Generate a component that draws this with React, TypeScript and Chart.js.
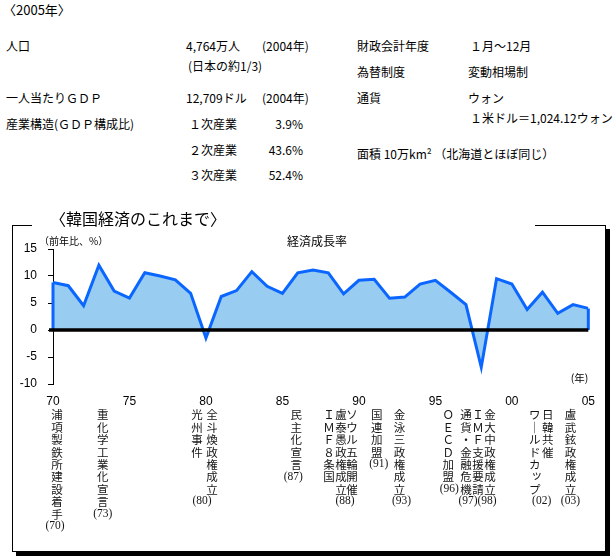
import React, { useEffect, useRef } from "react";
import { Chart, registerables } from "chart.js";

Chart.register(...registerables);

// ---- data ----
const years = [
  1970, 1971, 1972, 1973, 1974, 1975, 1976, 1977, 1978, 1979,
  1980, 1981, 1982, 1983, 1984, 1985, 1986, 1987, 1988, 1989,
  1990, 1991, 1992, 1993, 1994, 1995, 1996, 1997, 1998, 1999,
  2000, 2001, 2002, 2003, 2004, 2005,
];
const growthRates = [
  8.8, 8.2, 4.5, 12.0, 7.2, 5.9, 10.6, 10.0, 9.3, 6.8,
  -1.5, 6.2, 7.3, 10.8, 8.1, 6.8, 10.6, 11.1, 10.6, 6.7,
  9.2, 9.4, 5.9, 6.1, 8.5, 9.2, 7.0, 4.7, -6.9, 9.5,
  8.5, 3.8, 7.0, 3.1, 4.7, 4.0,
];
const yTickValues = [-10, -5, 0, 5, 10, 15];
const xTickYears = [1970, 1975, 1980, 1985, 1990, 1995, 2000, 2005];
const xTickLabels = ["70", "75", "80", "85", "90", "95", "00", "05"];

// event annotations (vertical text columns under the axis)
const eventTexts = [
  "浦項製鉄所建設着手", "重化学工業化宣言", "光州事件", "全斗煥政権成立", "民主化宣言",
  "ＩＭＦ８条国", "盧泰愚政権成立", "ソウル五輪開催", "国連加盟", "金泳三政権成立",
  "ＯＥＣＤ加盟", "通貨・金融危機", "ＩＭＦ支援要請", "金大中政権成立",
  "ワールドカップ", "日韓共催", "盧武鉉政権成立",
];
const eventColumnYear = [
  1970.26, 1973.25, 1979.42, 1980.39, 1985.91,
  1988.05, 1988.83, 1989.55, 1991.17, 1992.66,
  1995.84, 1997.01, 1997.79, 1998.57,
  2001.49, 2002.34, 2003.83,
];
const eventTags = ["(70)", "(73)", "(80)", "(87)", "(88)", "(91)", "(93)", "(96)", "(97)", "(98)", "(02)", "(03)"];
const eventTagYear = [1970.13, 1973.25, 1979.74, 1985.71, 1989.09, 1991.3, 1992.79, 1995.91, 1997.14, 1998.38, 2001.95, 2003.83];
const eventTagBelowColumn = [0, 1, 3, 4, 6, 8, 9, 10, 11, 13, 14, 16];

const LINE_COLOR = "#0a66ff";
const FILL_COLOR = "#98ccf1";
const CJK = '"Noto Sans CJK JP", sans-serif';
const LATIN = '"Liberation Sans", Arial, sans-serif';

const overlayPlugin = {
  id: "overlay",
  afterDatasetsDraw(chart: any) {
    const { ctx, chartArea, scales } = chart;
    const y0 = scales.y.getPixelForValue(0);
    const pts = chart.getDatasetMeta(0).data;
    const first = pts[0];
    const last = pts[pts.length - 1];
    ctx.save();
    ctx.strokeStyle = LINE_COLOR;
    ctx.lineWidth = 3;
    ctx.beginPath();
    ctx.moveTo(first.x, y0);
    ctx.lineTo(first.x, first.y);
    ctx.moveTo(last.x, last.y);
    ctx.lineTo(last.x, y0);
    ctx.stroke();
    ctx.strokeStyle = "#000";
    ctx.lineWidth = 3.5;
    ctx.beginPath();
    ctx.moveTo(chartArea.left - 4, y0);
    ctx.lineTo(chartArea.right, y0);
    ctx.stroke();
    ctx.restore();
  },
  afterDraw(chart: any) {
    const { ctx, chartArea, scales } = chart;
    const xs = scales.x;
    ctx.save();
    ctx.fillStyle = "#000";
    ctx.textBaseline = "middle";

    ctx.font = `10px ${CJK}`;
    ctx.textAlign = "left";
    ctx.fillText("（前年比、%）", 26, 15);

    ctx.font = `12px ${CJK}`;
    ctx.textAlign = "center";
    ctx.fillText("経済成長率", 304, 15);

    ctx.font = `10.5px ${CJK}`;
    ctx.textAlign = "right";
    ctx.fillText("(年)", chartArea.right, chartArea.bottom - 6);

    // vertical annotation columns
    const startY = chartArea.bottom + 31;
    const pitch = 12.4;
    const small = "ッォャュョァィゥェ";
    ctx.fillStyle = "#151515";
    ctx.textAlign = "center";
    ctx.font = `11.5px ${CJK}`;
    eventTexts.forEach((text, i) => {
      const x = xs.getPixelForValue(eventColumnYear[i]);
      Array.from(text).forEach((ch, k) => {
        const g = ch === "ー" ? "｜" : ch;
        const dx = small.includes(ch) ? 2 : 0;
        const dy = small.includes(ch) ? -2 : 0;
        ctx.fillText(g, x + dx, startY + k * pitch + dy);
      });
    });
    ctx.font = `11.5px "Liberation Serif", serif`;
    eventTags.forEach((tag, i) => {
      const col = eventTagBelowColumn[i];
      const n = Array.from(eventTexts[col]).length;
      const y = startY + (n - 1) * pitch + 12;
      ctx.fillText(tag, xs.getPixelForValue(eventTagYear[i]), y);
    });
    ctx.restore();
  },
};

function T(props: { x: number; y: number; text: string; size?: number; right?: boolean }) {
  const { x, y, text, size = 12, right } = props;
  const style: any = {
    position: "absolute",
    top: y - 8,
    height: 16,
    lineHeight: "16px",
    fontSize: size,
    fontFamily: CJK,
    color: "#000",
    whiteSpace: "nowrap",
  };
  if (right) style.right = 616 - x;
  else style.left = x;
  return <div style={style}>{text}</div>;
}

export default function App() {
  const ref = useRef<HTMLCanvasElement>(null);

  useEffect(() => {
    const canvas = ref.current!;
    const chart = new Chart(canvas, {
      type: "line",
      data: {
        datasets: [
          {
            label: "経済成長率",
            data: years.map((yr, i) => ({ x: yr, y: growthRates[i] })),
            borderColor: LINE_COLOR,
            backgroundColor: FILL_COLOR,
            borderWidth: 3,
            fill: "origin",
            pointRadius: 0,
            tension: 0,
          },
        ],
      },
      options: {
        animation: false,
        responsive: false,
        maintainAspectRatio: false,
        layout: { padding: { top: 23, right: 12, bottom: 137, left: 0 } },
        plugins: {
          legend: { display: false },
          tooltip: { enabled: false },
          title: { display: false },
        },
        scales: {
          x: {
            type: "linear",
            min: xTickYears[0],
            max: xTickYears[xTickYears.length - 1],
            afterFit: (s: any) => {
              s.height = 30;
            },
            afterBuildTicks: (s: any) => {
              s.ticks = xTickYears.map((v) => ({ value: v }));
            },
            grid: { display: false, drawTicks: false },
            border: { display: false },
            ticks: {
              padding: 10,
              maxRotation: 0,
              autoSkip: false,
              color: "#000",
              font: { family: LATIN, size: 12 },
              callback: (v: any) => {
                const idx = xTickYears.indexOf(Number(v));
                return idx >= 0 ? xTickLabels[idx] : "";
              },
            },
          },
          y: {
            type: "linear",
            min: yTickValues[0],
            max: yTickValues[yTickValues.length - 1],
            afterFit: (s: any) => {
              s.width = 40;
            },
            afterBuildTicks: (s: any) => {
              s.ticks = yTickValues.map((v) => ({ value: v }));
            },
            grid: {
              drawOnChartArea: false,
              drawTicks: true,
              tickLength: 5,
              color: "#000",
              lineWidth: 1,
            },
            border: { display: true, color: "#000", width: 1 },
            ticks: {
              padding: 11,
              color: "#000",
              font: { family: LATIN, size: 12 },
              callback: (v: any) => String(v),
            },
          },
        },
      },
      plugins: [overlayPlugin],
    } as any);
    return () => chart.destroy();
  }, []);

  return (
    <div
      style={{
        position: "absolute",
        left: 0,
        top: 0,
        width: 616,
        height: 560,
        background: "#fff",
        overflow: "hidden",
        fontFamily: CJK,
      }}
    >
      <T x={3} y={10} text="〈2005年〉" size={13} />

      <T x={6} y={46} text="人口" />
      <T x={186} y={46} text="4,764万人" />
      <T x={262} y={46} text="(2004年)" />
      <T x={188} y={66} text="(日本の約1/3)" />

      <T x={6} y={98} text="一人当たりＧＤＰ" />
      <T x={186} y={98} text="12,709ドル" />
      <T x={262} y={98} text="(2004年)" />

      <T x={6} y={124} text="産業構造(ＧＤＰ構成比)" />
      <T x={189} y={124} text="１次産業" />
      <T x={303} y={124} text="3.9%" right />
      <T x={189} y={150} text="２次産業" />
      <T x={303} y={150} text="43.6%" right />
      <T x={189} y={175} text="３次産業" />
      <T x={303} y={175} text="52.4%" right />

      <T x={357} y={46} text="財政会計年度" />
      <T x={470} y={46} text="１月～12月" />
      <T x={357} y={72} text="為替制度" />
      <T x={468} y={72} text="変動相場制" />
      <T x={357} y={98} text="通貨" />
      <T x={468} y={98} text="ウォン" />
      <T x={470} y={118} text="１米ドル＝1,024.12ウォン" />
      <T x={357} y={154} text="面積 10万km² （北海道とほぼ同じ）" />

      <div
        style={{
          position: "absolute",
          left: 12,
          top: 225,
          width: 594,
          height: 327,
          boxSizing: "border-box",
          border: "1px solid #000",
          boxShadow: "4px 4px 0 #000",
          background: "#fff",
        }}
      />
      <div style={{ position: "absolute", left: 13, top: 226, width: 592, height: 325 }}>
        <canvas ref={ref} width={592} height={325} style={{ display: "block" }} />
      </div>
      <div
        style={{
          position: "absolute",
          left: 32,
          top: 209,
          width: 503,
          height: 19,
          background: "#fff",
          paddingLeft: 18,
          boxSizing: "border-box",
          fontSize: 16,
          lineHeight: "19px",
          fontFamily: CJK,
          color: "#000",
          whiteSpace: "nowrap",
        }}
      >
        〈韓国経済のこれまで〉
      </div>
    </div>
  );
}
